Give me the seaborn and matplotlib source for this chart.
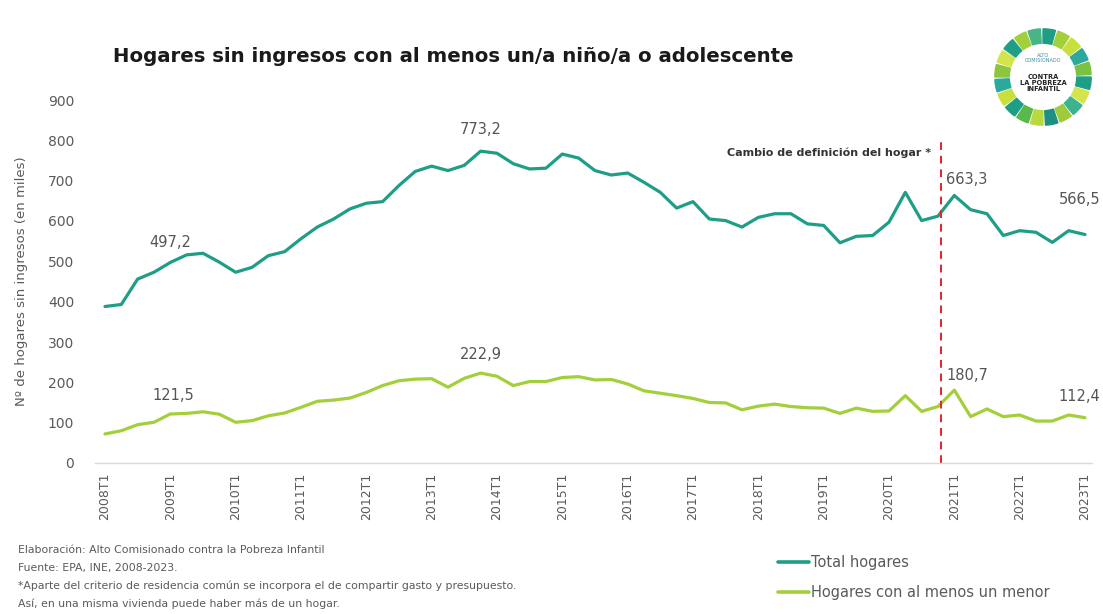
import numpy as np
import pandas as pd
import matplotlib.pyplot as plt
import seaborn as sns
from matplotlib.patches import Wedge
from matplotlib.lines import Line2D

# ================= datos =================
trimestres = [f"{y}T{q}" for y in range(2008, 2024) for q in range(1, 5)][:61]

total_hogares = [388, 393, 456, 473, 497.2, 516, 520, 498, 473, 485,
                 514, 524, 556, 585, 605, 630, 644, 648, 688, 723,
                 736, 725, 738, 773.2, 768, 742, 729, 731, 766, 756,
                 725, 714, 719, 696, 671, 632, 648, 605, 601, 585,
                 609, 618, 618, 593, 589, 546, 562, 564, 597, 671,
                 601, 612, 663.3, 628, 618, 564, 576, 572, 547, 576,
                 566.5]

hogares_menor = [72, 80, 95, 101, 121.5, 123, 127, 121, 101, 105,
                 117, 124, 138, 153, 156, 161, 175, 192, 204, 208,
                 209, 188, 210, 222.9, 215, 192, 202, 202, 212, 214,
                 206, 207, 196, 179, 173, 167, 160, 150, 149, 132,
                 141, 146, 140, 137, 136, 123, 136, 128, 129, 167,
                 128, 140, 180.7, 115, 134, 115, 119, 104, 104, 119,
                 112.4]

series = ["Total hogares", "Hogares con al menos un menor"]
colores = {"Total hogares": "#1f9e86", "Hogares con al menos un menor": "#a3cf3a"}

# puntos etiquetados: (serie, índice, dx, dy, alineación)
etiquetas = [
    ("Total hogares", 4, 0, 9, "center"),
    ("Total hogares", 23, 0, 10, "center"),
    ("Total hogares", 52, -6, 6, "left"),
    ("Total hogares", 60, 11, 20, "right"),
    ("Hogares con al menos un menor", 4, 2, 8, "center"),
    ("Hogares con al menos un menor", 23, 0, 8, "center"),
    ("Hogares con al menos un menor", 52, -6, 5, "left"),
    ("Hogares con al menos un menor", 60, 11, 10, "right"),
]

notas = [
    "Elaboración: Alto Comisionado contra la Pobreza Infantil",
    "Fuente: EPA, INE, 2008-2023.",
    "*Aparte del criterio de residencia común se incorpora el de compartir gasto y presupuesto.",
    "Así, en una misma vivienda puede haber más de un hogar.",
]

df = pd.DataFrame({
    "idx": list(range(len(trimestres))) * 2,
    "serie": [series[0]] * len(total_hogares) + [series[1]] * len(hogares_menor),
    "valor": total_hogares + hogares_menor,
})

# ================= figura =================
sns.set_theme(style="white")
plt.rcParams['font.family'] = ['DejaVu Sans']
GRIS = "#5a5a5a"

W, H = 1103, 614
fig = plt.figure(figsize=(W / 100, H / 100), dpi=100)
ax = fig.add_axes([95 / W, 1 - 463 / H, (1092 - 95) / W, (463 - 100) / H])

sns.lineplot(data=df, x="idx", y="valor", hue="serie", palette=colores,
             linewidth=2.3, ax=ax, legend=False)

ax.set_xlim(-0.61, 60.43)
ax.set_ylim(0, 900)
ax.set_yticks(range(0, 901, 100))
ax.set_xticks(range(0, 61, 4))
ax.set_xticklabels(trimestres[::4], rotation=90)
ax.tick_params(length=0, colors=GRIS)
ax.tick_params(axis="y", pad=15, labelsize=10)
ax.tick_params(axis="x", pad=7, labelsize=9)
ax.set_xlabel("")
ax.set_ylabel("Nº de hogares sin ingresos (en miles)", color=GRIS, fontsize=9.5, labelpad=14)
for s in ["top", "right", "left"]:
    ax.spines[s].set_visible(False)
ax.spines["bottom"].set_color("#d9d9d9")
ax.spines["bottom"].set_linewidth(1)

# cambio de definición
ax.axvline(51.2, ymin=0, ymax=795 / 900, color="#e3242b", linestyle=(0, (4, 3)), linewidth=1.4)
ax.text(50.6, 770, "Cambio de definición del hogar *", ha="right", va="center",
        fontsize=8, fontweight="bold", color="#333333")

valores = {series[0]: total_hogares, series[1]: hogares_menor}
for serie, i, dx, dy, ha in etiquetas:
    v = valores[serie][i]
    ax.annotate(f"{v:.1f}".replace(".", ","), (i, v), xytext=(dx, dy),
                textcoords="offset points", ha=ha, va="bottom",
                fontsize=10.5, color="#555555", annotation_clip=False)

# título
fig.text(113 / W, 1 - 57 / H, "Hogares sin ingresos con al menos un/a niño/a o adolescente",
         fontsize=14.2, fontweight="bold", color="#1a1a1a", va="center", ha="left")

# notas al pie
for k, t in enumerate(notas):
    fig.text(18 / W, 1 - (550 + 17.8 * k) / H, t, fontsize=7.8, color=GRIS, va="center")

# leyenda
handles = [Line2D([0], [0], color=colores[s], linewidth=2.6) for s in series]
leg = fig.legend(handles, series, loc="upper left", bbox_to_anchor=(765 / W, 1 - 542 / H),
                 frameon=False, fontsize=10.5, handlelength=2.1, handletextpad=0.15,
                 labelspacing=1.05)
for t in leg.get_texts():
    t.set_color(GRIS)

# logo
lax = fig.add_axes([990 / W, 1 - 130 / H, 106 / W, 106 / H])
lax.set_xlim(-1.1, 1.1)
lax.set_ylim(-1.1, 1.1)
lax.set_aspect("equal")
lax.axis("off")
logo_cols = ["#1f9e86", "#a3cf3a", "#c9e03c", "#2aa99c", "#7cc242", "#1f9e86",
             "#d3e54a", "#3bb38f", "#9dcb3b", "#1f8f7f", "#b9da3e", "#5ab94a",
             "#1f9e86", "#c9e03c", "#2aa99c", "#8cc63f", "#d3e54a", "#1f9e86",
             "#a3cf3a", "#49b587"]
n = len(logo_cols)
for k, c in enumerate(logo_cols):
    a0 = 90 - k * 360 / n
    lax.add_patch(Wedge((0, 0), 1.0, a0 - 360 / n + 3, a0, width=0.3, color=c))
lax.text(0, 0.4, "ALTO\nCOMISIONADO", ha="center", va="center", fontsize=3.6,
         color="#3a8fa0", linespacing=1.0)
lax.text(0, -0.12, "CONTRA\nLA POBREZA\nINFANTIL", ha="center", va="center",
         fontsize=4.8, fontweight="bold", color="#222222", linespacing=1.05)

fig.savefig("out.png", dpi=100)
